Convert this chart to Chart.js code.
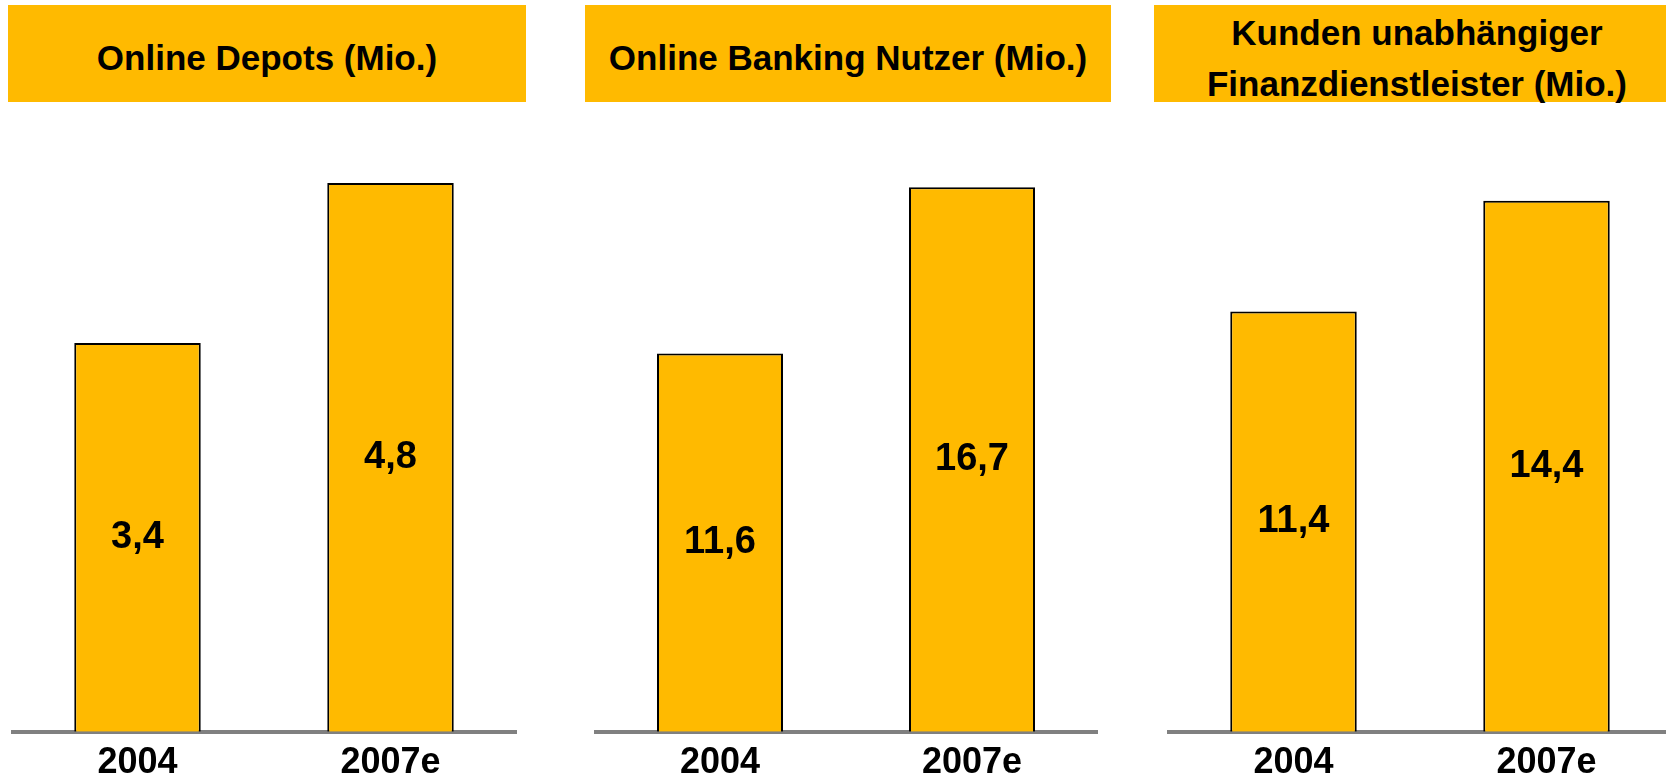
<!DOCTYPE html>
<html>
<head>
<meta charset="utf-8">
<script src="https://cdn.jsdelivr.net/npm/chart.js@4.4.1/dist/chart.umd.min.js"></script>
<style>
  body {
    margin: 0;
    width: 1666px;
    height: 779px;
    overflow: hidden;
    position: relative;
    background: #fff;
    font-family: "Liberation Sans", Arial, sans-serif;
  }
  .title {
    position: absolute;
    top: 5px;
    height: 97px;
    box-sizing: border-box;
    padding-top: 8px;
    background: #FFBA00;
    color: #000;
    font-weight: bold;
    font-size: 35px;
    line-height: 51px;
    display: flex;
    align-items: center;
    justify-content: center;
    text-align: center;
    white-space: nowrap;
  }
  .panel {
    position: absolute;
    top: 120px;
    height: 675px;
  }
</style>
</head>
<body>

<div class="title" style="left:8px;width:518px;">Online Depots (Mio.)</div>
<div class="title" style="left:585px;width:526px;">Online Banking Nutzer (Mio.)</div>
<div class="title" style="left:1154px;width:526px;">Kunden unabhängiger<br>Finanzdienstleister (Mio.)</div>

<div class="panel" style="left:11px;width:506px;"><canvas id="c1"></canvas></div>
<div class="panel" style="left:594px;width:504px;"><canvas id="c2"></canvas></div>
<div class="panel" style="left:1167px;width:506px;"><canvas id="c3"></canvas></div>

<script>
// categories
const years = ['2004', '2007e'];

// series values (Mio.)
const onlineDepots = [3.4, 4.8];
const onlineBankingNutzer = [11.6, 16.7];
const finanzKunden = [11.4, 14.4];

const barColor = '#FFBA00';

// writes the value in the middle of each bar, german decimal comma
const valueLabels = {
  id: 'valueLabels',
  afterDatasetsDraw(chart) {
    const ctx = chart.ctx;
    ctx.save();
    ctx.font = 'bold 38px "Liberation Sans", Arial, sans-serif';
    ctx.fillStyle = '#000';
    ctx.textAlign = 'center';
    ctx.textBaseline = 'middle';
    chart.getDatasetMeta(0).data.forEach((bar, i) => {
      const v = chart.data.datasets[0].data[i];
      ctx.fillText(v.toFixed(1).replace('.', ','), bar.x, (bar.y + bar.base) / 2);
    });
    ctx.restore();
  }
};

function makeChart(id, values, yMax) {
  return new Chart(document.getElementById(id), {
    type: 'bar',
    data: {
      labels: years,
      datasets: [{
        data: values,
        backgroundColor: barColor,
        borderColor: '#000',
        borderWidth: 2,
        borderSkipped: 'bottom',
        barPercentage: 0.5,
        categoryPercentage: 1.0
      }]
    },
    options: {
      responsive: true,
      maintainAspectRatio: false,
      animation: false,
      layout: { padding: 0 },
      plugins: {
        legend: { display: false },
        tooltip: { enabled: false }
      },
      scales: {
        x: {
          grid: { display: false, drawTicks: false },
          border: { display: true, color: '#808080', width: 4 },
          ticks: {
            color: '#000',
            padding: 10,
            font: { family: '"Liberation Sans", Arial, sans-serif', size: 36, weight: 'bold' }
          }
        },
        y: {
          display: false,
          min: 0,
          max: yMax
        }
      }
    },
    plugins: [valueLabels]
  });
}

makeChart('c1', onlineDepots, 5.35);
makeChart('c2', onlineBankingNutzer, 18.76);
makeChart('c3', finanzKunden, 16.59);
</script>
</body>
</html>
